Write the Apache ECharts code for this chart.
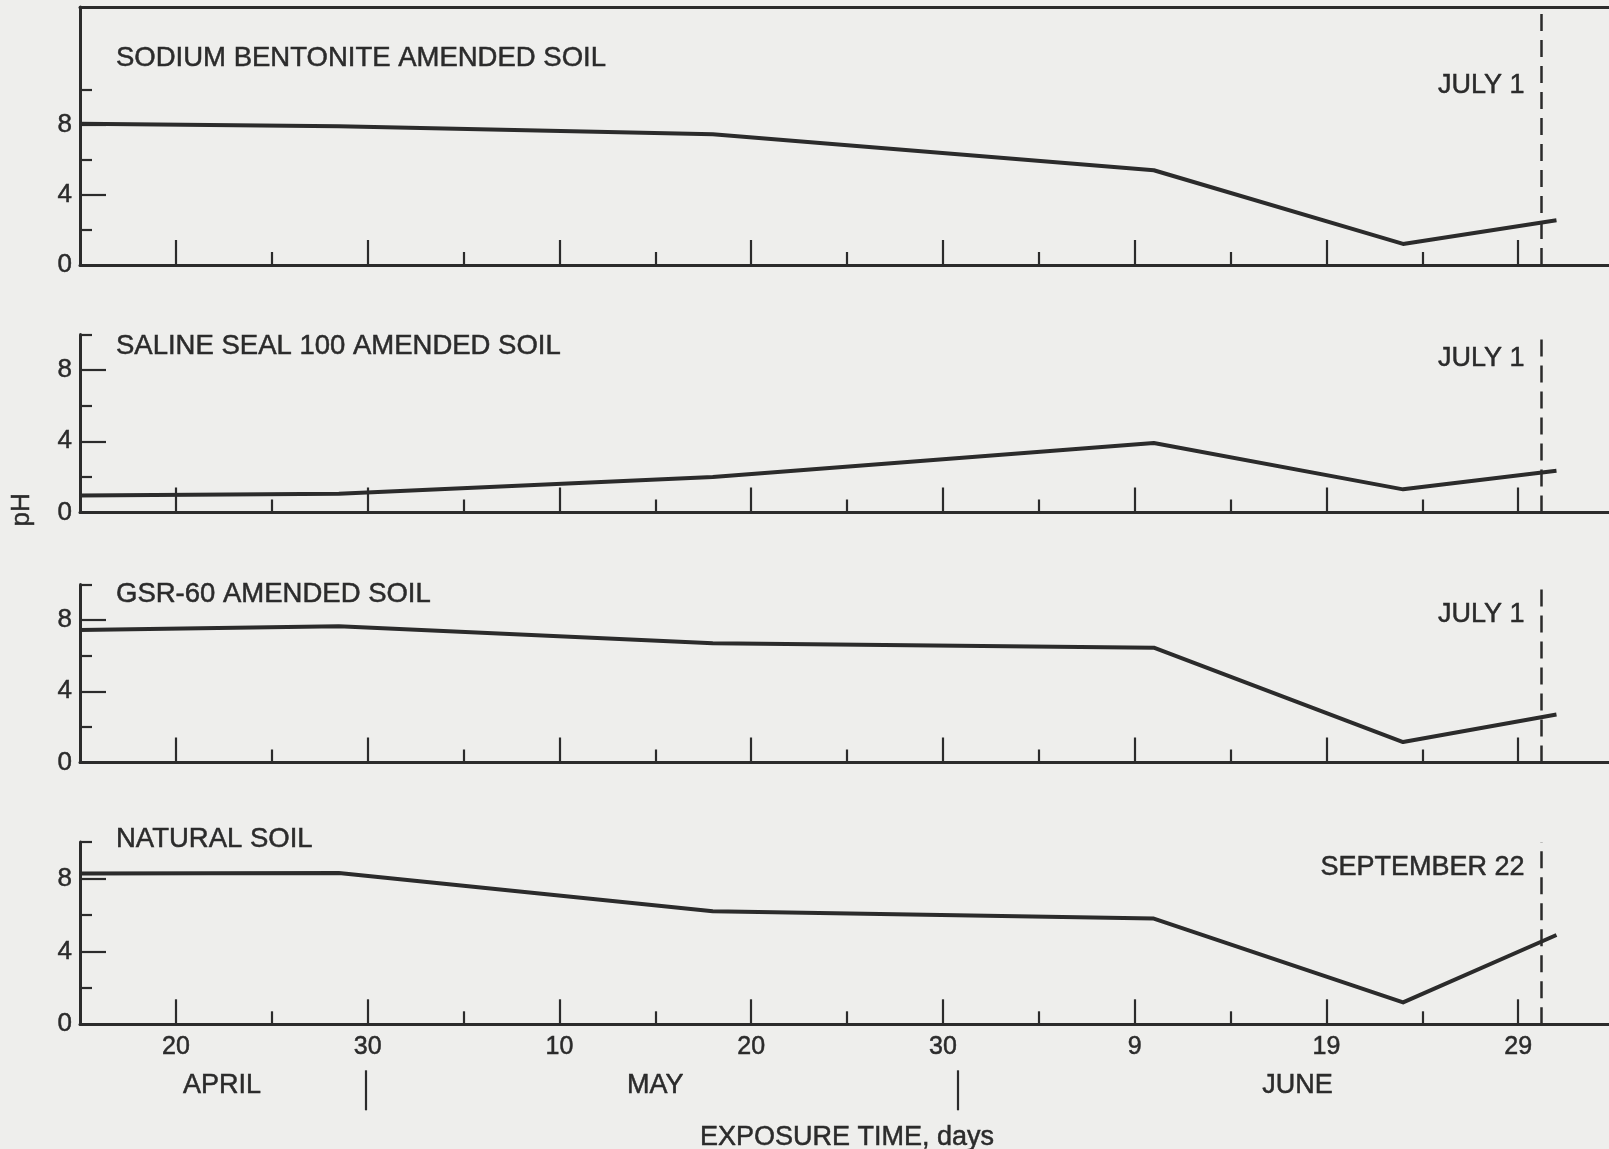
<!DOCTYPE html>
<html>
<head>
<meta charset="utf-8">
<script src="https://cdn.jsdelivr.net/npm/echarts@6/dist/echarts.min.js"></script>
<style>
  html, body { margin: 0; padding: 0; background: #eeeeec; }
  #chart { width: 1609px; height: 1149px; }
</style>
</head>
<body>
<div id="chart"></div>
<script>
// ---- data ----
// x = day number counted from April 1 (April 20 = 20, May 10 = 40, June 9 = 70, July 1 = 92)
const sampleDays = [15, 28.5, 48, 71, 84, 92];
const sodiumBentonite = [8.05, 7.9, 7.45, 5.4, 1.2, 2.55];
const salineSeal100 = [0.95, 1.05, 2.0, 3.9, 1.3, 2.35];
const gsr60 = [7.45, 7.65, 6.7, 6.45, 1.15, 2.7];
const naturalSoil = [8.27, 8.3, 6.2, 5.8, 1.2, 4.9];

const panelTitles = ['SODIUM BENTONITE AMENDED SOIL', 'SALINE SEAL 100 AMENDED SOIL', 'GSR-60 AMENDED SOIL', 'NATURAL SOIL'];
const markerLabels = ['JULY 1', 'JULY 1', 'JULY 1', 'SEPTEMBER 22'];
const markerDay = 91.2;

const majorTickDays = [20, 30, 40, 50, 60, 70, 80, 90];
const minorTickDays = [25, 35, 45, 55, 65, 75, 85];
const xTickLabels = ['20', '30', '10', '20', '30', '9', '19', '29'];
const monthNames = ['APRIL', 'MAY', 'JUNE'];
const monthLabelDays = [22.4, 45, 78.5];
const monthBoundaryDays = [29.9, 60.8];

const yLabelValues = [0, 4, 8];
const yMajorTicks = [4, 8];
const yMinorTicks = [2, 6, 10];

const yAxisName = 'pH';
const xAxisName = 'EXPOSURE TIME, days';

// ---- layout ----
const seriesValues = [sodiumBentonite, salineSeal100, gsr60, naturalSoil];
const panels = [
  { top: 7, height: 258, max: 14.7, titleY: 56, markY: 83 },
  { top: 334.5, height: 178, max: 10, titleY: 344, markY: 356 },
  { top: 584.5, height: 178, max: 10, titleY: 592.5, markY: 611.7 },
  { top: 842, height: 182.3, max: 10, titleY: 837, markY: 865 }
];
const INK = '#2b2b2b';
const FONT = '"Liberation Sans", Arial, Helvetica, sans-serif';
const X_MIN = 15, X_MAX = 95;
const bold = { textBorderColor: INK, textBorderWidth: 0.5 };

const grid = [], xAxis = [], yAxis = [], series = [], title = [];

panels.forEach((p, i) => {
  grid.push({ left: 80, width: 1534, top: p.top, height: p.height, containLabel: false, outerBoundsMode: 'none' });

  const mainX = xAxis.length;
  xAxis.push({
    type: 'value', gridIndex: i, min: X_MIN, max: X_MAX, position: 'bottom',
    axisLine: { show: true, onZero: false, lineStyle: { color: INK, width: 3 } },
    axisTick: { show: true, inside: true, length: 25, customValues: majorTickDays, lineStyle: { color: INK, width: 2.2 } },
    axisLabel: i === 3 ? Object.assign({
      show: true, customValues: majorTickDays, margin: 10,
      color: INK, fontFamily: FONT, fontSize: 25,
      formatter: v => xTickLabels[majorTickDays.indexOf(Math.round(v))] || ''
    }, bold) : { show: false },
    splitLine: { show: false },
    name: i === 3 ? xAxisName : '',
    nameLocation: 'middle', nameGap: 100,
    nameTextStyle: Object.assign({ color: INK, fontFamily: FONT, fontSize: 27 }, bold)
  });
  xAxis.push({
    type: 'value', gridIndex: i, min: X_MIN, max: X_MAX, position: 'bottom',
    axisLine: { show: false, onZero: false },
    axisTick: { show: true, inside: true, length: 13, customValues: minorTickDays, lineStyle: { color: INK, width: 2.2 } },
    axisLabel: { show: false }, splitLine: { show: false }
  });
  if (i === 0) {
    xAxis.push({
      type: 'value', gridIndex: i, min: X_MIN, max: X_MAX, position: 'top',
      axisLine: { show: true, onZero: false, lineStyle: { color: INK, width: 3 } },
      axisTick: { show: false }, axisLabel: { show: false }, splitLine: { show: false }
    });
  }
  if (i === 3) {
    xAxis.push({
      type: 'value', gridIndex: i, min: X_MIN, max: X_MAX, position: 'bottom', offset: 46,
      axisLine: { show: false, onZero: false },
      axisTick: { show: true, inside: false, length: 40, customValues: monthBoundaryDays, lineStyle: { color: INK, width: 2.2 } },
      axisLabel: Object.assign({
        show: true, customValues: monthLabelDays, margin: 2,
        color: INK, fontFamily: FONT, fontSize: 27,
        formatter: v => {
          let best = 0;
          monthLabelDays.forEach((d, k) => { if (Math.abs(d - v) < Math.abs(monthLabelDays[best] - v)) best = k; });
          return monthNames[best];
        }
      }, bold),
      splitLine: { show: false }
    });
  }

  const mainY = yAxis.length;
  yAxis.push({
    type: 'value', gridIndex: i, min: 0, max: p.max, position: 'left',
    axisLine: { show: true, onZero: false, lineStyle: { color: INK, width: 3 } },
    axisTick: { show: true, inside: true, length: 26, customValues: yMajorTicks, lineStyle: { color: INK, width: 2.2 } },
    axisLabel: Object.assign({ show: true, customValues: yLabelValues, margin: 8, color: INK, fontFamily: FONT, fontSize: 26 }, bold),
    splitLine: { show: false }
  });
  yAxis.push({
    type: 'value', gridIndex: i, min: 0, max: p.max, position: 'left',
    axisLine: { show: false, onZero: false },
    axisTick: { show: true, inside: true, length: 12, customValues: yMinorTicks, lineStyle: { color: INK, width: 2.2 } },
    axisLabel: { show: false }, splitLine: { show: false }
  });

  series.push({
    type: 'line', xAxisIndex: mainX, yAxisIndex: mainY,
    data: sampleDays.map((d, j) => [d, seriesValues[i][j]]),
    showSymbol: false, symbol: 'none', smooth: false,
    lineStyle: { color: INK, width: 4, cap: 'butt', join: 'round' },
    silent: true,
    markLine: {
      silent: true, symbol: 'none', animation: false,
      label: { show: false },
      lineStyle: { color: INK, width: 2.5, type: [17, 9] },
      data: [{ xAxis: markerDay }]
    }
  });

  title.push({
    text: panelTitles[i], left: 116, top: p.titleY - 12, padding: 0,
    textStyle: Object.assign({ color: INK, fontFamily: FONT, fontSize: 27.5, fontWeight: 'normal' }, bold)
  });
  title.push({
    text: markerLabels[i], right: 84, top: p.markY - 11, padding: 0,
    textStyle: Object.assign({ color: INK, fontFamily: FONT, fontSize: 27, fontWeight: 'normal' }, bold)
  });
});

const chart = echarts.init(document.getElementById('chart'), null, { renderer: 'canvas' });
chart.setOption({
  backgroundColor: '#eeeeec',
  animation: false,
  title, grid, xAxis, yAxis, series,
  graphic: [{
    type: 'text', left: 9, top: 493, rotation: Math.PI / 2,
    style: { text: yAxisName, fill: INK, font: '26px ' + FONT, stroke: INK, lineWidth: 0.5 }
  }]
});
</script>
</body>
</html>
